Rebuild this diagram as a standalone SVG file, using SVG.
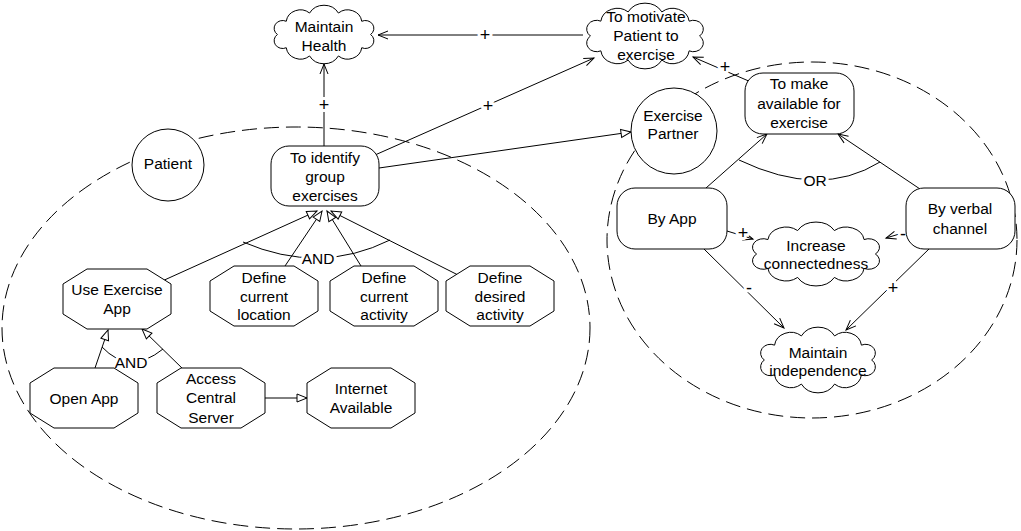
<svg xmlns="http://www.w3.org/2000/svg" xmlns:xlink="http://www.w3.org/1999/xlink" width="1021" height="531" viewBox="0 0 1021 531">
<style>
text{font-family:"Liberation Sans",Arial,sans-serif;font-size:15.5px;fill:#000;text-anchor:middle}
.shape{fill:#fff;stroke:#000;stroke-width:1}
.cloud{fill:#fff;stroke:#000;stroke-width:1;vector-effect:non-scaling-stroke}
.bound{fill:none;stroke:#000;stroke-width:1;stroke-dasharray:15 7}
.conn path{fill:none;stroke:#000;stroke-width:1}
.open{marker-end:url(#open)}
.tri{marker-end:url(#tri)}
.lbl{paint-order:stroke;stroke:#fff;stroke-width:6px;stroke-linejoin:round}
.sign{font-size:18px}
</style>
<defs>
<marker id="open" viewBox="0 0 10 10" refX="10" refY="5" markerWidth="10" markerHeight="10" markerUnits="userSpaceOnUse" orient="auto" overflow="visible">
<path d="M0,1 L10,5 L0,9" fill="none" stroke="#000" stroke-width="1"/>
</marker>
<marker id="tri" viewBox="0 0 10 10" refX="10" refY="5" markerWidth="10" markerHeight="10" markerUnits="userSpaceOnUse" orient="auto" overflow="visible">
<path d="M0,1 L10,5 L0,9 Z" fill="#fff" stroke="#000" stroke-width="1"/>
</marker>
<path id="cloudShape" class="cloud" d="M-44,0 A8,8 0 0 1 -35.6,-13.5 A13.4,13.4 0 0 1 -13.6,-21.9 A15.6,15.6 0 0 1 13.6,-21.9 A13.4,13.4 0 0 1 35.6,-13.5 A8,8 0 0 1 44,0 A8,8 0 0 1 35.6,13.5 A13.4,13.4 0 0 1 13.6,21.9 A15.6,15.6 0 0 1 -13.6,21.9 A13.4,13.4 0 0 1 -35.6,13.5 A8,8 0 0 1 -44,0 Z"/>
<polygon id="octa" class="shape" points="24,0 84,0 108,15 108,45 84,60 24,60 0,45 0,15"/>
</defs>
<rect x="0" y="0" width="1021" height="531" fill="#fff"/>
<g id="boundaries">
<ellipse class="bound" cx="296" cy="328" rx="294" ry="201"/>
<ellipse class="bound" cx="812" cy="240" rx="205" ry="178"/>
</g>
<g id="connectors" class="conn">
<path class="open" d="M583,35 L378,35"/>
<path class="open" d="M324,146 L324,64"/>
<path class="open" d="M375,155 L594,58"/>
<path class="tri" d="M379,168 L631,132"/>
<path class="tri" d="M160,282 L317,211"/>
<path class="tri" d="M285,266 L322,211"/>
<path class="tri" d="M361,266 L327,211"/>
<path class="tri" d="M460,276 L331,211"/>
<path d="M243,242 Q319.5,275 390,240"/>
<path class="tri" d="M95,368 L108,330"/>
<path class="tri" d="M184,370 L142,329"/>
<path d="M102,347 Q129.5,376 163,349"/>
<path class="tri" d="M265,398 L307,398"/>
<path class="open" d="M751,82 L693,57"/>
<path class="open" d="M706,188 L767,134"/>
<path class="open" d="M920,189 L838,134"/>
<path d="M739,160 Q820.5,199 880,162"/>
<path class="open" d="M727,231 L753,239"/>
<path class="open" d="M906,232 L886,238"/>
<path class="open" d="M703,248 L784,328"/>
<path class="open" d="M930,248 L846,330"/>
<text class="lbl sign" x="485" y="41">+</text>
<text class="lbl sign" x="324" y="111">+</text>
<text class="lbl sign" x="488" y="112">+</text>
<text class="lbl" x="318" y="264">AND</text>
<text class="lbl" x="131" y="368">AND</text>
<text class="lbl sign" x="725" y="73">+</text>
<text class="lbl" x="815" y="186">OR</text>
<text class="lbl sign" x="743" y="239">+</text>
<text class="lbl sign" x="903" y="240">-</text>
<text class="lbl sign" x="749" y="294">-</text>
<text class="lbl sign" x="893" y="294">+</text>
</g>
<g id="maintain-health">
<use xlink:href="#cloudShape" href="#cloudShape" transform="translate(324,34.5) scale(1.06,0.98)"/>
<text x="324" y="31.5">Maintain</text>
<text x="324" y="50.5">Health</text>
</g>
<g id="to-motivate">
<use xlink:href="#cloudShape" href="#cloudShape" transform="translate(645,36) scale(1.24,1.1)"/>
<text x="646" y="21.5">To motivate</text>
<text x="646" y="41">Patient to</text>
<text x="646" y="59.5">exercise</text>
</g>
<g id="patient">
<circle class="shape" cx="168" cy="165" r="36"/>
<text x="168" y="168.5">Patient</text>
</g>
<g id="to-identify">
<rect class="shape" x="271" y="146" width="108" height="60" rx="18" ry="18"/>
<text x="325" y="162.5">To identify</text>
<text x="325" y="181.5">group</text>
<text x="325" y="200.5">exercises</text>
</g>
<g id="exercise-partner">
<circle class="shape" cx="674" cy="131" r="43"/>
<text x="673" y="120.5">Exercise</text>
<text x="673" y="138.5">Partner</text>
</g>
<g id="use-exercise-app">
<use xlink:href="#octa" href="#octa" transform="translate(63,269)"/>
<text x="117" y="295">Use Exercise</text>
<text x="117" y="314">App</text>
</g>
<g id="define-location">
<use xlink:href="#octa" href="#octa" transform="translate(210,266)"/>
<text x="264" y="282.5">Define</text>
<text x="264" y="301.5">current</text>
<text x="264" y="320">location</text>
</g>
<g id="define-activity">
<use xlink:href="#octa" href="#octa" transform="translate(330,266)"/>
<text x="384" y="282.5">Define</text>
<text x="384" y="301.5">current</text>
<text x="384" y="320">activity</text>
</g>
<g id="define-desired">
<use xlink:href="#octa" href="#octa" transform="translate(446,266)"/>
<text x="500" y="282.5">Define</text>
<text x="500" y="301.5">desired</text>
<text x="500" y="320">activity</text>
</g>
<g id="open-app">
<use xlink:href="#octa" href="#octa" transform="translate(30,368)"/>
<text x="84" y="403.5">Open App</text>
</g>
<g id="access-server">
<use xlink:href="#octa" href="#octa" transform="translate(157,368)"/>
<text x="211" y="384">Access</text>
<text x="211" y="403">Central</text>
<text x="211" y="422.5">Server</text>
</g>
<g id="internet-available">
<use xlink:href="#octa" href="#octa" transform="translate(307,368)"/>
<text x="361" y="393.5">Internet</text>
<text x="361" y="412.5">Available</text>
</g>
<g id="to-make-available">
<rect class="shape" x="745" y="73" width="109" height="61" rx="18" ry="18"/>
<text x="799" y="88.5">To make</text>
<text x="799" y="108.5">available for</text>
<text x="799" y="127.5">exercise</text>
</g>
<g id="by-app">
<rect class="shape" x="617" y="188" width="110" height="61" rx="18" ry="18"/>
<text x="672" y="224">By App</text>
</g>
<g id="by-verbal">
<rect class="shape" x="906" y="188" width="109" height="61" rx="18" ry="18"/>
<text x="960" y="213.5">By verbal</text>
<text x="960" y="233.5">channel</text>
</g>
<g id="increase-connectedness">
<use xlink:href="#cloudShape" href="#cloudShape" transform="translate(816,254) scale(1.35,1.07)"/>
<text x="816" y="250.5">Increase</text>
<text x="816" y="268.5">connectedness</text>
</g>
<g id="maintain-independence">
<use xlink:href="#cloudShape" href="#cloudShape" transform="translate(818,360) scale(1.22,1.1)"/>
<text x="818" y="357.5">Maintain</text>
<text x="818" y="375.5">independence</text>
</g>
</svg>
